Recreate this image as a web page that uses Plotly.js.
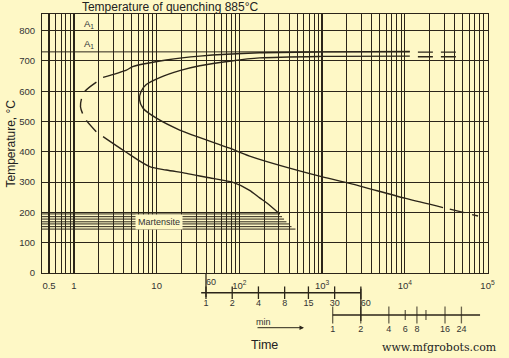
<!DOCTYPE html>
<html><head><meta charset="utf-8">
<script src="https://cdn.plot.ly/plotly-3.0.1.min.js"></script>
<style>html,body{margin:0;padding:0;background:#fef8c6;} #chart{width:509px;height:358px;}</style>
</head><body><div id="chart"></div>
<script>
// ---------------- data (time in seconds, temperature in °C) ----------------
const startUpperTime = [2.25, 4.31, 5.14, 13.1, 33.2, 176, 984, 11500];
const startUpperTemp = [646, 670, 681, 703, 716, 727, 730, 731];
const startNoseTime = [1.87, 1.35, 1.23, 1.20, 1.27, 1.42, 1.87];
const startNoseTemp = [630, 599, 573, 549, 527, 503, 466];
const startLowerTime = [2.25, 4.1, 8.25, 13.1, 22.9, 40.0, 83.9, 133, 176, 213, 308];
const startLowerTemp = [450, 402, 351, 340, 329, 316, 299, 273, 248, 232, 195];
const startTailTime = [14400, 42500];
const startTailTemp = [729, 729];

const finishTime = [11500, 984, 176, 80, 33.2, 19.0, 10.9, 7.5, 6.5, 6.2, 6.85, 9.95, 19.0, 76.5, 133, 984, 2160, 10000, 29000];
const finishTemp = [716, 715, 710, 700, 684, 668, 645, 622, 600, 573, 544, 511, 472, 412, 386, 318, 296, 247, 216];
const finishTailUpperTime = [14400, 42500];
const finishTailUpperTemp = [714, 714];
const finishTailLowerTime = [35000, 76900];
const finishTailLowerTemp = [211, 188];

const a1Time = [0.4, 11500];
const a1Temp = [730, 730];

const martensiteTemp = [195, 186, 178, 169, 162, 153, 145];
const martensiteEnd  = [308, 328, 347, 371, 399, 427, 477];
const martensiteStart = 0.4;

const timeTickVals = [0.5, 1, 10, 100, 1000, 10000, 100000];
const timeTickText = ['0.5', '1', '10', '10<sup>2</sup>', '10<sup>3</sup>', '10<sup>4</sup>', '10<sup>5</sup>'];
const tempTickVals = [0, 100, 200, 300, 400, 500, 600, 700, 800];

const minuteTicks  = [1, 2, 4, 8, 15, 30, 60];
const minuteLabels = ['1', '2', '4', '8', '15', '30', '60'];
const minuteLineStart = 0.88;
const hourTicks  = [1, 2, 4, 6, 8, 10, 16, 24];
const hourLabels = ['1', '2', '4', '6', '8', '', '16', '24'];
const hourLineEnd = 38;

// ---------------- styling ----------------
const bg = '#fef8c6';
const ink = '#2b2519';
const txt = '#333333';

// minor grid values (2..9 per decade, and 0.6..0.9)
const minorVals = [];
for (let k = -1; k <= 4; k++) {
  for (let d = 2; d <= 9; d++) {
    const v = d * Math.pow(10, k);
    if (v > 0.5 && v < 100000) minorVals.push(+v.toPrecision(3));
  }
}

const curve = (x, y, dash) => ({
  x: x, y: y, xaxis: 'x', yaxis: 'y', mode: 'lines', hoverinfo: 'skip',
  line: {color: ink, width: 1.4, shape: 'spline', smoothing: 0.8, dash: dash || 'solid'}
});

const traces = [];
traces.push({x: a1Time, y: a1Temp, xaxis: 'x', yaxis: 'y', mode: 'lines', line: {color: ink, width: 1}});
traces.push(curve(startUpperTime, startUpperTemp));
traces.push(curve(startNoseTime, startNoseTemp, '15px,8px'));
traces.push(curve(startLowerTime, startLowerTemp));
traces.push(curve(startTailTime, startTailTemp, '15px,8px'));
traces.push(curve(finishTime, finishTemp));
traces.push(curve(finishTailUpperTime, finishTailUpperTemp, '15px,8px'));
traces.push(curve(finishTailLowerTime, finishTailLowerTemp, '15px,8px'));

// martensite lines
const mx = [], my = [];
martensiteTemp.forEach((t, i) => { mx.push(martensiteStart, martensiteEnd[i], null); my.push(t, t, null); });
traces.push({x: mx, y: my, xaxis: 'x', yaxis: 'y', mode: 'lines', line: {color: ink, width: 1}});

// ---- secondary time scales (minutes, hours) on helper axes ----
// helper y axis rows (pixels above the bottom of the plotting area)
const rowTop = 65, rowSec = 55, rowMin = 45.3, rowMinLbl = 34, rowMinLong = 41, rowHour = 23, rowHourLong = 17, rowHourLbl = 8;

traces.push({x: [minuteLineStart, minuteTicks[minuteTicks.length - 1]], y: [rowMin, rowMin], xaxis: 'x2', yaxis: 'y2', mode: 'lines', line: {color: ink, width: 1.6}});
traces.push({x: minuteTicks, y: minuteTicks.map(() => rowMin), xaxis: 'x2', yaxis: 'y2', mode: 'markers',
  marker: {symbol: 'line-ns', size: 9, line: {color: ink, width: 1.3}}});
traces.push({x: [minuteTicks[0], minuteTicks[0]], y: [rowTop, rowMinLong], xaxis: 'x2', yaxis: 'y2', mode: 'lines', line: {color: ink, width: 1.3}});
traces.push({x: [minuteTicks[minuteTicks.length - 1], minuteTicks[minuteTicks.length - 1]], y: [rowMin + 4, rowHourLong], xaxis: 'x2', yaxis: 'y2', mode: 'lines', line: {color: ink, width: 1.3}});
traces.push({x: minuteTicks, y: minuteTicks.map(() => rowMinLbl), text: minuteLabels, xaxis: 'x2', yaxis: 'y2', mode: 'text',
  textposition: minuteLabels.map((_, i) => i === minuteLabels.length - 1 ? 'middle right' : 'middle center'),
  textfont: {size: 9, color: txt}, cliponaxis: false});
traces.push({x: [minuteTicks[0]], y: [rowSec], text: ['60'], xaxis: 'x2', yaxis: 'y2', mode: 'text', textposition: 'middle right',
  textfont: {size: 9, color: txt}, cliponaxis: false});

traces.push({x: [hourTicks[0], hourLineEnd], y: [rowHour, rowHour], xaxis: 'x3', yaxis: 'y2', mode: 'lines', line: {color: ink, width: 1.3}});
traces.push({x: hourTicks, y: hourTicks.map(() => rowHour), xaxis: 'x3', yaxis: 'y2', mode: 'markers',
  marker: {symbol: 'line-ns', size: hourTicks.map(v => (v === 6 || v === 10) ? 7 : 12), line: {color: ink, width: 1.3}}});
traces.push({x: hourTicks, y: hourTicks.map(() => rowHourLbl), text: hourLabels, xaxis: 'x3', yaxis: 'y2', mode: 'text',
  textposition: 'middle center', textfont: {size: 9, color: txt}, cliponaxis: false});

const W = 446, H = 324, L = 42, T = 14;
const px = x => (x - L) / W;          // pixel -> paper x
const py = y => (T + H - y) / H;       // pixel -> paper y

const layout = {
  width: 509, height: 358,
  margin: {l: 42, r: 21, t: 14, b: 20, pad: 0},
  paper_bgcolor: bg, plot_bgcolor: bg,
  showlegend: false,
  font: {family: 'Liberation Sans, Arial, sans-serif', size: 9.5, color: txt},
  title: {text: 'Temperature of quenching 885°C', xref: 'container', x: 0.334, xanchor: 'center',
          yref: 'container', y: 1 - 7 / 358, yanchor: 'middle', font: {size: 12, color: '#222'}},
  xaxis: {type: 'log', range: [-0.386, 5.006], domain: [0, 1], anchor: 'y',
          tickmode: 'array', tickvals: timeTickVals, ticktext: timeTickText, ticks: '', ticklabelstandoff: 4,
          showgrid: true, gridcolor: ink, gridwidth: 1.3,
          minor: {tickmode: 'array', tickvals: minorVals, showgrid: true, gridcolor: ink, gridwidth: 1, ticks: ''},
          showline: true, mirror: true, linecolor: ink, linewidth: 1, zeroline: false, fixedrange: true},
  yaxis: {domain: [py(273), 1], anchor: 'x', range: [0, 855], tickmode: 'array', tickvals: tempTickVals,
          ticks: '', ticklabelstandoff: 4, showgrid: true, gridcolor: ink, gridwidth: 1,
          showline: true, mirror: true, linecolor: ink, linewidth: 1, zeroline: false, fixedrange: true},
  xaxis2: {type: 'log', range: [-1.883, 3.238], domain: [0, 1], anchor: 'y2', visible: false},
  xaxis3: {type: 'log', range: [-3.116, 1.665], domain: [0, 1], anchor: 'y2', overlaying: 'x2', visible: false},
  yaxis2: {domain: [0, py(273)], range: [0, 65], anchor: 'x2', visible: false},
  annotations: [
    {text: 'A<sub>1</sub>', xref: 'paper', yref: 'paper', x: px(82), y: py(23.5), xanchor: 'left', yanchor: 'middle', showarrow: false, font: {size: 9.5, color: txt}},
    {text: 'A<sub>1</sub>', xref: 'paper', yref: 'paper', x: px(82), y: py(44.5), xanchor: 'left', yanchor: 'middle', showarrow: false, font: {size: 9.5, color: txt}},
    {text: 'Martensite', xref: 'paper', yref: 'paper', x: px(159), y: py(221.5), xanchor: 'center', yanchor: 'middle', showarrow: false,
     bgcolor: bg, borderpad: 2, font: {size: 9, color: txt}},
    {text: 'Temperature, °C', xref: 'paper', yref: 'paper', x: px(10), y: py(143.5), xanchor: 'center', yanchor: 'middle', textangle: -90,
     showarrow: false, font: {size: 12, color: '#222'}},
    {text: 'min', xref: 'paper', yref: 'paper', x: px(263), y: py(321.5), xanchor: 'center', yanchor: 'middle', showarrow: false, font: {size: 9, color: txt}},
    {text: '', xref: 'paper', yref: 'paper', x: px(304), y: py(327.7), axref: 'pixel', ayref: 'pixel', ax: -48, ay: 0,
     showarrow: true, arrowhead: 2, arrowsize: 0.9, arrowwidth: 1, arrowcolor: ink},
    {text: 'Time', xref: 'paper', yref: 'paper', x: px(264), y: py(345), xanchor: 'center', yanchor: 'middle', showarrow: false, font: {size: 12.5, color: '#222'}},
    {text: 'www.mfgrobots.com', xref: 'paper', yref: 'paper', x: px(439), y: py(347.5), xanchor: 'center', yanchor: 'middle', showarrow: false,
     font: {family: 'DejaVu Serif, Liberation Serif, serif', size: 11, color: '#222'}}
  ]
};

Plotly.newPlot('chart', traces, layout, {staticPlot: true, displayModeBar: false});
</script>
</body></html>
